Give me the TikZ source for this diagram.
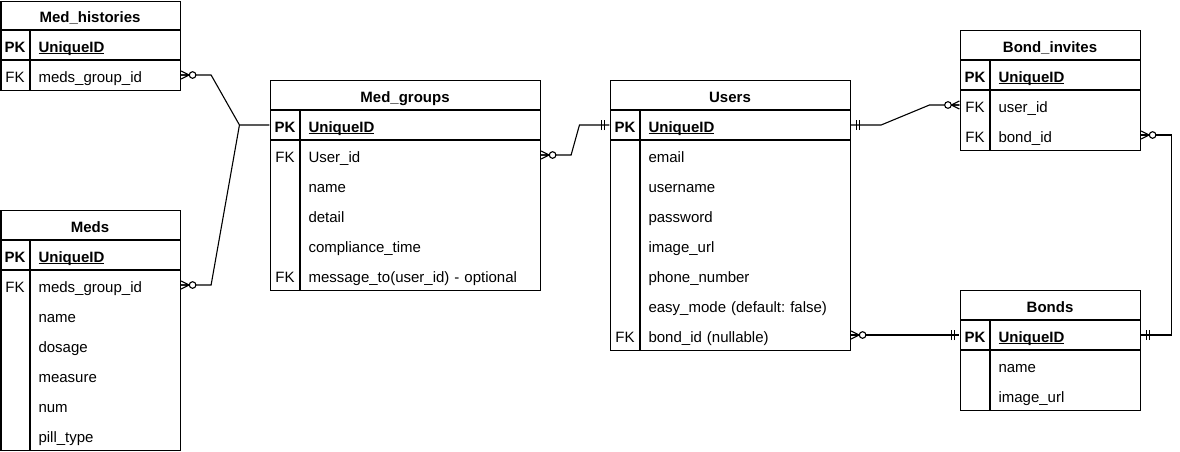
\documentclass[tikz,border=0pt]{standalone}
\usepackage{fontspec}
\setmainfont{Liberation Sans}
\usetikzlibrary{calc}
\frenchspacing
\newsavebox{\pkbox}
\newcommand{\pkname}{\sbox{\pkbox}{\textbf{UniqueID}}\rlap{\rule[-2.2pt]{\wd\pkbox}{1.1pt}}\usebox{\pkbox}}
\tikzset{
  every picture/.style={x=1pt,y=-1pt,line width=1.1pt},
  tfont/.style={font=\fontsize{15}{18}\selectfont,text height=16pt,text depth=2pt},
  tblbox/.style={draw,line width=1.1pt,anchor=north west,inner sep=0pt},
  hdr/.style={tfont,font=\fontsize{15}{18}\selectfont\bfseries,inner sep=0pt},
  keycell/.style={tfont,minimum width=30pt,minimum height=30pt,inner sep=0pt},
  pkcell/.style={keycell,font=\fontsize{15}{18}\selectfont\bfseries},
  fld/.style={tfont,anchor=west,minimum height=30pt,inner xsep=8pt,inner ysep=0pt,align=left},
  fldA/.style={fld,text width=134pt},
  fldB/.style={fld,text width=224pt},
  fldC/.style={fld,text width=194pt},
  conn/.style={draw,line width=1.1pt},
  zm/.pic={\draw[line width=1.1pt] (0,-4) -- (8,0) -- (0,4) (0,0) -- (8,0);
           \draw[line width=1.1pt,fill=white] (11.5,0) circle (3.3);},
  mo/.pic={\draw[line width=1.1pt] (5,-5) -- (5,5) (8,-5) -- (8,5);}
}
\begin{document}
\begin{tikzpicture}
\useasboundingbox (0,0) rectangle (1180,451);

% ---------- Med_histories ----------
\node[tblbox,minimum width=179pt,minimum height=89.5pt] (mh) at (0.5,0.5) {};
\node[hdr] (mh-h) at (90,15) {Med\_histories};
\draw (0.5,30) -- (180,30) (0.5,60) -- (180,60) (30,30) -- (30,90);
\node[pkcell] (mh-pk) at (15,45) {PK};
\node[fldA] (mh-id) at (30,45) {\pkname};
\node[keycell] (mh-fkk) at (15,75) {FK};
\node[fldA] (mh-fk) at (30,75) {meds\_group\_id};

% ---------- Meds ----------
\node[tblbox,minimum width=179.5pt,minimum height=240pt] (md) at (0.5,210) {};
\node[hdr] (md-h) at (90,225) {Meds};
\draw (0.5,240) -- (180,240) (0.5,270) -- (180,270) (30,240) -- (30,450);
\node[pkcell] (md-pk) at (15,255) {PK};
\node[fldA] (md-id) at (30,255) {\pkname};
\node[keycell] (md-fkk) at (15,285) {FK};
\node[fldA] (md-fk) at (30,285) {meds\_group\_id};
\node[fldA] (md-f2) at (30,315) {name};
\node[fldA] (md-f3) at (30,345) {dosage};
\node[fldA] (md-f4) at (30,375) {measure};
\node[fldA] (md-f5) at (30,405) {num};
\node[fldA] (md-f6) at (30,435) {pill\_type};

% ---------- Med_groups ----------
\node[tblbox,minimum width=270pt,minimum height=210pt] (mg) at (270,80) {};
\node[hdr] (mg-h) at (405,95) {Med\_groups};
\draw (270,110) -- (540,110) (270,140) -- (540,140) (300,110) -- (300,290);
\node[pkcell] (mg-pk) at (285,125) {PK};
\node[fldB] (mg-id) at (300,125) {\pkname};
\node[keycell] (mg-fkk) at (285,155) {FK};
\node[fldB] (mg-uid) at (300,155) {User\_id};
\node[fldB] (mg-f2) at (300,185) {name};
\node[fldB] (mg-f3) at (300,215) {detail};
\node[fldB] (mg-f4) at (300,245) {compliance\_time};
\node[keycell] (mg-fk2k) at (285,275) {FK};
\node[fldB] (mg-msg) at (300,275) {message\_to(user\_id) - optional};

% ---------- Users ----------
\node[tblbox,minimum width=240pt,minimum height=270pt] (us) at (610,80) {};
\node[hdr] (us-h) at (730,95) {Users};
\draw (610,110) -- (850,110) (610,140) -- (850,140) (640,110) -- (640,350);
\node[pkcell] (us-pk) at (625,125) {PK};
\node[fldC] (us-id) at (640,125) {\pkname};
\node[fldC] (us-f1) at (640,155) {email};
\node[fldC] (us-f2) at (640,185) {username};
\node[fldC] (us-f3) at (640,215) {password};
\node[fldC] (us-f4) at (640,245) {image\_url};
\node[fldC] (us-f5) at (640,275) {phone\_number};
\node[fldC] (us-f6) at (640,305) {easy\_mode (default: false)};
\node[keycell] (us-fkk) at (625,335) {FK};
\node[fldC] (us-bid) at (640,335) {bond\_id (nullable)};

% ---------- Bond_invites ----------
\node[tblbox,minimum width=180pt,minimum height=120pt] (bi) at (960,30) {};
\node[hdr] (bi-h) at (1050,45) {Bond\_invites};
\draw (960,60) -- (1140,60) (960,90) -- (1140,90) (990,60) -- (990,150);
\node[pkcell] (bi-pk) at (975,75) {PK};
\node[fldA] (bi-id) at (990,75) {\pkname};
\node[keycell] (bi-uidk) at (975,105) {FK};
\node[fldA] (bi-uid) at (990,105) {user\_id};
\node[keycell] (bi-bidk) at (975,135) {FK};
\node[fldA] (bi-bid) at (990,135) {bond\_id};

% ---------- Bonds ----------
\node[tblbox,minimum width=180pt,minimum height=120pt] (bo) at (960,290) {};
\node[hdr] (bo-h) at (1050,305) {Bonds};
\draw (960,320) -- (1140,320) (960,350) -- (1140,350) (990,320) -- (990,410);
\node[pkcell] (bo-pk) at (975,335) {PK};
\node[fldA] (bo-id) at (990,335) {\pkname};
\node[fldA] (bo-f1) at (990,365) {name};
\node[fldA] (bo-f2) at (990,395) {image\_url};

% ---------- connectors ----------
\coordinate (j1) at ($(mg-pk.west)+(-30,0)$);
\draw[conn] (mh-fk.east) -- ++(30,0) -- (j1) -- (mg-pk.west);
\draw[conn] (md-fk.east) -- ++(30,0) -- (j1);
\pic at (mh-fk.east) {zm};
\pic at (md-fk.east) {zm};

\draw[conn] (mg-uid.east) -- ++(30,0) -- ($(us-pk.west)+(-30,0)$) -- (us-pk.west);
\pic at (mg-uid.east) {zm};
\pic[rotate=180] at (us-pk.west) {mo};

\draw[conn] (us-id.east) -- ++(30,0) -- ($(bi-uidk.west)+(-30,0)$) -- (bi-uidk.west);
\pic at (us-id.east) {mo};
\pic[rotate=180] at (bi-uidk.west) {zm};

\draw[conn] (bi-bid.east) -- ++(30,0) |- (bo-id.east);
\pic at (bi-bid.east) {zm};
\pic at (bo-id.east) {mo};

\draw[conn] (us-bid.east) -- (bo-pk.west);
\pic at (us-bid.east) {zm};
\pic[rotate=180] at (bo-pk.west) {mo};
\end{tikzpicture}
\end{document}
